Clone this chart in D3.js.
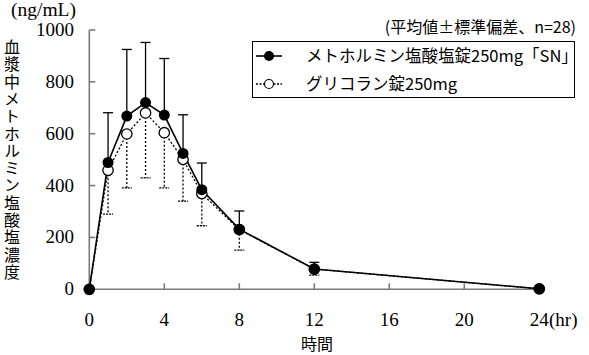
<!DOCTYPE html>
<html><head><meta charset="utf-8">
<script src="https://cdn.jsdelivr.net/npm/d3@7"></script>
<style>body{margin:0;background:#fff}svg{display:block}</style>
</head><body><svg id="c" width="589" height="355"></svg>
<script>
const times = [0, 1, 2, 3, 4, 5, 6, 8, 12, 24];
const snMean = [0, 489, 668, 720, 672, 524, 384, 232, 78, 2];
const snUpper = [0, 681, 925, 952, 890, 673, 487, 302, 104, 2];
const gMean = [0, 459, 599, 680, 604, 501, 369, 230, 78, 2];
const gLower = [0, 290, 391, 430, 391, 340, 245, 151, 55, 2];
const xTicks = [0, 4, 8, 12, 16, 20, 24];
const yTicks = [0, 200, 400, 600, 800, 1000];
const legendLabels = ["メトホルミン塩酸塩錠250mg「SN」", "グリコラン錠250mg"];
const yTitle = "血漿中メトホルミン塩酸塩濃度";

const svg = d3.select("#c");
const x = d3.scaleLinear().domain([0, 24]).range([89.3, 539.3]);
const y = d3.scaleLinear().domain([0, 1000]).range([289.3, 30]);
const serif = "'Liberation Serif', 'DejaVu Serif', serif";
const jp = "'Noto Sans CJK JP', sans-serif";

// axes
const axG = svg.append("g").attr("stroke", "#7a7a7a").attr("stroke-width", 1.6);
axG.append("line").attr("x1", x(0)).attr("x2", x(24)).attr("y1", y(0)).attr("y2", y(0));
axG.append("line").attr("x1", x(0)).attr("x2", x(0)).attr("y1", y(0)).attr("y2", y(1000));
xTicks.forEach(t => { if (t > 0) axG.append("line").attr("x1", x(t)).attr("x2", x(t)).attr("y1", y(0)).attr("y2", y(0) - 6); });
yTicks.forEach(t => { if (t > 0) axG.append("line").attr("x1", x(0)).attr("x2", x(0) + 6).attr("y1", y(t)).attr("y2", y(t)); });

svg.selectAll(".yl").data(yTicks).join("text").attr("x", 74).attr("y", d => y(d) + 6)
  .attr("text-anchor", "end").attr("font-family", serif).attr("font-size", 19).text(d => d);
svg.selectAll(".xl").data(xTicks).join("text").attr("x", d => x(d)).attr("y", 326)
  .attr("text-anchor", "middle").attr("font-family", serif).attr("font-size", 19).text(d => d);
svg.append("text").attr("x", 549).attr("y", 326).attr("font-family", serif).attr("font-size", 19).text("(hr)");
svg.append("text").attr("x", 317).attr("y", 350).attr("text-anchor", "middle").attr("font-family", jp).attr("font-size", 16).text("時間");
svg.append("text").attr("x", 11).attr("y", 16).attr("font-family", serif).attr("font-size", 19.5).text("(ng/mL)");

// vertical title as a single vertical text
svg.append("text").attr("x", 12).attr("y", 39)
  .style("writing-mode", "vertical-rl").style("text-orientation", "upright")
  .attr("font-family", jp).attr("font-size", 16).attr("letter-spacing", 1.3).text(yTitle);

// error bars
const capW = 5;
times.forEach((t, i) => {
  if (snUpper[i] > snMean[i]) {
    svg.append("line").attr("x1", x(t)).attr("x2", x(t)).attr("y1", y(snMean[i])).attr("y2", y(snUpper[i])).attr("stroke", "#000").attr("stroke-width", 1.3);
    svg.append("line").attr("x1", x(t) - capW).attr("x2", x(t) + capW).attr("y1", y(snUpper[i])).attr("y2", y(snUpper[i])).attr("stroke", "#000").attr("stroke-width", 1.3);
  }
  if (gLower[i] < gMean[i]) {
    svg.append("line").attr("x1", x(t)).attr("x2", x(t)).attr("y1", y(gMean[i])).attr("y2", y(gLower[i])).attr("stroke", "#000").attr("stroke-width", 1.3).attr("stroke-dasharray", "2,2");
    svg.append("line").attr("x1", x(t) - capW).attr("x2", x(t) + capW).attr("y1", y(gLower[i])).attr("y2", y(gLower[i])).attr("stroke", "#000").attr("stroke-width", 1.3).attr("stroke-dasharray", "2,1");
  }
});

const line = d3.line().x(d => x(d[0])).y(d => y(d[1]));
svg.append("path").attr("d", line(times.map((t, i) => [t, gMean[i]]))).attr("fill", "none").attr("stroke", "#000").attr("stroke-width", 1.3).attr("stroke-dasharray", "2,2");
svg.append("path").attr("d", line(times.map((t, i) => [t, snMean[i]]))).attr("fill", "none").attr("stroke", "#000").attr("stroke-width", 1.6);

svg.selectAll(".g").data(times).join("circle").attr("cx", d => x(d)).attr("cy", (d, i) => y(gMean[i])).attr("r", 5.2)
  .attr("fill", "#fff").attr("stroke", "#000").attr("stroke-width", 1.3);
svg.selectAll(".s").data(times).join("circle").attr("cx", d => x(d)).attr("cy", (d, i) => y(snMean[i])).attr("r", 5.5).attr("fill", "#000");

// legend
svg.append("text").attr("x", 576).attr("y", 33).attr("text-anchor", "end").attr("font-family", jp).attr("font-size", 16).text("(平均値±標準偏差、n=28)");
svg.append("rect").attr("x", 252.5).attr("y", 41.5).attr("width", 322).attr("height", 56).attr("fill", "#fff").attr("stroke", "#000").attr("stroke-width", 1);
svg.append("line").attr("x1", 256).attr("x2", 282).attr("y1", 56).attr("y2", 56).attr("stroke", "#000").attr("stroke-width", 1.6);
svg.append("circle").attr("cx", 269).attr("cy", 56).attr("r", 5).attr("fill", "#000");
svg.append("line").attr("x1", 256).attr("x2", 282).attr("y1", 84).attr("y2", 84).attr("stroke", "#000").attr("stroke-width", 1.3).attr("stroke-dasharray", "2,1.5");
svg.append("circle").attr("cx", 269).attr("cy", 84).attr("r", 4.5).attr("fill", "#fff").attr("stroke", "#000").attr("stroke-width", 1.2);
legendLabels.forEach((l, i) => {
  svg.append("text").attr("x", 306).attr("y", 62 + i * 28).attr("font-family", jp).attr("font-size", 16.5).text(l);
});
</script></body></html>
